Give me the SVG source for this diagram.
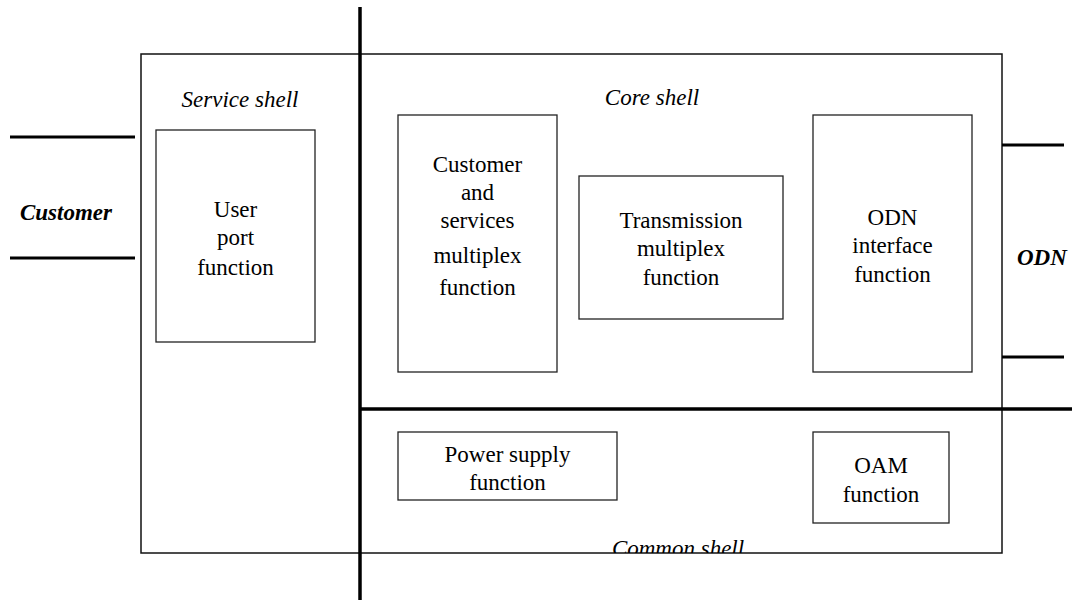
<svg xmlns="http://www.w3.org/2000/svg" width="1072" height="601" viewBox="0 0 1072 601">
<style>
.box{fill:none;stroke:#222;stroke-width:1.3}
.outer{fill:none;stroke:#111;stroke-width:1.5}
.thick{stroke:#000;stroke-width:3.5;fill:none}
.port{stroke:#000;stroke-width:3;fill:none}
.t{font-family:"Liberation Serif","Times New Roman",serif;font-size:23px;fill:#000;text-anchor:middle}
.i{font-style:italic}
.b{font-weight:bold}
</style>
<defs>
<clipPath id="clipCommon"><rect x="560" y="520" width="240" height="33"/></clipPath>
</defs>
<rect width="1072" height="601" fill="#fff"/>
<g id="shell">
<rect class="outer" x="141" y="54" width="861" height="499"/>
<text class="t i" x="240" y="107">Service shell</text>
<text class="t i" x="652" y="105">Core shell</text>
</g>
<g id="connectors">
<line class="thick" x1="360" y1="7" x2="360" y2="600"/>
<line class="thick" x1="360" y1="409" x2="1072" y2="409"/>
<line class="port" x1="10" y1="137" x2="135" y2="137"/>
<line class="port" x1="10" y1="258" x2="135" y2="258"/>
<line class="port" x1="1002" y1="145" x2="1064" y2="145"/>
<line class="port" x1="1002" y1="357" x2="1064" y2="357"/>
</g>
<g id="customer-label"><text class="t i b" x="66" y="220">Customer</text></g>
<g id="odn-label"><text class="t i b" x="1017" y="265" style="text-anchor:start">ODN</text></g>
<g id="user-port">
<rect class="box" x="156" y="130" width="159" height="212"/>
<text class="t" x="235.5" y="217">User</text>
<text class="t" x="235.5" y="245">port</text>
<text class="t" x="235.5" y="275">function</text>
</g>
<g id="cust-serv-mux">
<rect class="box" x="398" y="115" width="159" height="257"/>
<text class="t" x="477.5" y="172">Customer</text>
<text class="t" x="477.5" y="200">and</text>
<text class="t" x="477.5" y="228">services</text>
<text class="t" x="477.5" y="263">multiplex</text>
<text class="t" x="477.5" y="295">function</text>
</g>
<g id="trans-mux">
<rect class="box" x="579" y="176" width="204" height="143"/>
<text class="t" x="681" y="228">Transmission</text>
<text class="t" x="681" y="256">multiplex</text>
<text class="t" x="681" y="285">function</text>
</g>
<g id="odn-if">
<rect class="box" x="813" y="115" width="159" height="257"/>
<text class="t" x="892.5" y="225">ODN</text>
<text class="t" x="892.5" y="253">interface</text>
<text class="t" x="892.5" y="282">function</text>
</g>
<g id="power">
<rect class="box" x="398" y="432" width="219" height="68"/>
<text class="t" x="507.5" y="462">Power supply</text>
<text class="t" x="507.5" y="490">function</text>
</g>
<g id="oam">
<rect class="box" x="813" y="432" width="136" height="91"/>
<text class="t" x="881" y="473">OAM</text>
<text class="t" x="881" y="502">function</text>
</g>
<g id="common-label"><text class="t i" x="678" y="556" clip-path="url(#clipCommon)">Common shell</text></g>
</svg>
